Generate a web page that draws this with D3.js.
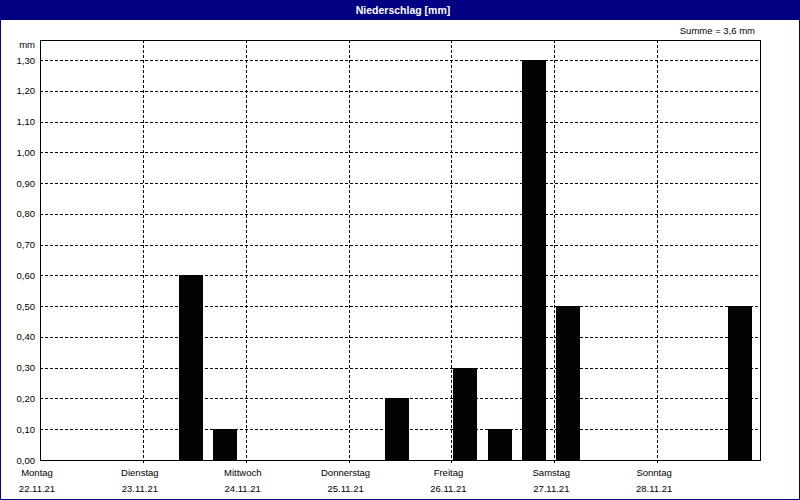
<!DOCTYPE html>
<html>
<head>
<meta charset="utf-8">
<script src="https://cdn.jsdelivr.net/npm/d3@7"></script>
<style>
html,body{margin:0;padding:0;background:#fff;}
svg{display:block;}
text{font-family:"Liberation Sans",Arial,sans-serif;}
</style>
</head>
<body>
<script>
// ---- data ----
const title = "Niederschlag [mm]";
const sumLabel = "Summe = 3,6 mm";
const unitLabel = "mm";
const dayNames = ["Montag","Dienstag","Mittwoch","Donnerstag","Freitag","Samstag","Sonntag"];
const dayDates = ["22.11.21","23.11.21","24.11.21","25.11.21","26.11.21","27.11.21","28.11.21"];
// 8-hour periods starting Monday 22.11.21 00:00 (21 periods)
const periodStarts = d3.range(21).map(i => new Date(2021, 10, 22, i * 8));
const precipitation = [0,0,0,0,0.6,0.1,0,0,0,0,0.2,0,0.3,0.1,1.3,0.5,0,0,0,0,0.5];
const yTicks = [0,0.1,0.2,0.3,0.4,0.5,0.6,0.7,0.8,0.9,1.0,1.1,1.2,1.3];

// ---- layout ----
const W = 800, H = 500;
const plot = {left: 40, right: 760, top: 40, bottom: 460};
const FS = 9.5;

const svg = d3.select("body").append("svg").attr("width", W).attr("height", H);
svg.append("rect").attr("x",0.5).attr("y",0.5).attr("width",W-1).attr("height",H-1)
  .attr("fill","#fff").attr("stroke","#000080");
svg.append("rect").attr("x",0).attr("y",0).attr("width",W).attr("height",20).attr("fill","#000080");
svg.append("text").attr("x",W/2+3).attr("y",14).attr("text-anchor","middle")
  .attr("fill","#fff").attr("font-size",10.5).attr("font-weight","bold").text(title);
svg.append("text").attr("x",755).attr("y",34).attr("text-anchor","end")
  .attr("fill","#000").attr("font-size",FS).text(sumLabel);

const x = d3.scaleTime()
  .domain([new Date(2021,10,22), new Date(2021,10,29)])
  .range([plot.left, plot.right]);
const y = d3.scaleLinear().domain([0, 1.3]).range([plot.bottom, 60]);
const dayTicks = d3.range(7).map(i => new Date(2021,10,22+i));

// horizontal grid
svg.append("g").selectAll("line").data(yTicks.filter(v => v > 0)).join("line")
  .attr("x1", plot.left).attr("x2", plot.right)
  .attr("y1", d => Math.round(y(d)) + 0.5).attr("y2", d => Math.round(y(d)) + 0.5)
  .attr("stroke","#000").attr("stroke-dasharray","3,2").attr("shape-rendering","crispEdges");
// vertical grid (days)
svg.append("g").selectAll("line").data(dayTicks.slice(1)).join("line")
  .attr("x1", d => Math.round(x(d)) + 0.5).attr("x2", d => Math.round(x(d)) + 0.5)
  .attr("y1", plot.top).attr("y2", plot.bottom + 4)
  .attr("stroke","#000").attr("stroke-dasharray","3,2").attr("shape-rendering","crispEdges");

// bars
const step = x(periodStarts[1]) - x(periodStarts[0]);
svg.append("g").selectAll("rect").data(precipitation.map((v,i)=>({v, t: periodStarts[i]})).filter(d => d.v > 0))
  .join("rect")
  .attr("x", d => Math.round(x(d.t) + step*0.06))
  .attr("width", Math.round(step*0.7))
  .attr("y", d => Math.round(y(d.v)))
  .attr("height", d => Math.round(y(0)) - Math.round(y(d.v)))
  .attr("fill","#040204").attr("shape-rendering","crispEdges");

// plot frame
svg.append("path")
  .attr("d", `M${plot.left+0.5},${plot.bottom+0.5}V${plot.top+0.5}H${plot.right+0.5}V${plot.bottom+0.5}H${plot.left+0.5}`)
  .attr("fill","none").attr("stroke","#000").attr("shape-rendering","crispEdges");

// y labels
svg.append("g").selectAll("text").data(yTicks).join("text")
  .attr("x", 35).attr("y", d => y(d) + 3.5).attr("text-anchor","end")
  .attr("font-size",FS).attr("fill","#000")
  .text(d => d3.format(".2f")(d).replace(".", ","));
svg.append("text").attr("x",35).attr("y",48).attr("text-anchor","end")
  .attr("font-size",FS).attr("fill","#000").text(unitLabel);

// x labels
const xl = svg.append("g").selectAll("g").data(dayTicks).join("g");
xl.append("text").attr("x", d => x(d) - 3).attr("y", 476).attr("text-anchor","middle")
  .attr("font-size",FS).attr("fill","#000").text((d,i) => dayNames[i]);
xl.append("text").attr("x", d => x(d) - 3).attr("y", 492).attr("text-anchor","middle")
  .attr("font-size",FS).attr("fill","#000").text((d,i) => dayDates[i]);
</script>
</body>
</html>
